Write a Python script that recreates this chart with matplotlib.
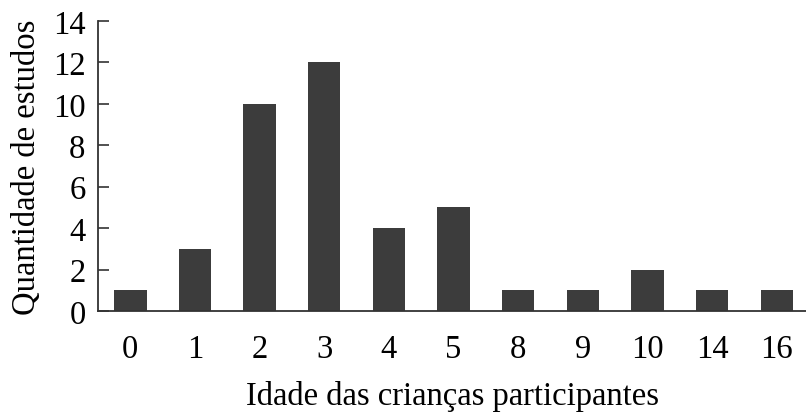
import matplotlib.pyplot as plt

plt.rcParams['font.family'] = ['Liberation Serif', 'DejaVu Serif']

idades = ['0', '1', '2', '3', '4', '5', '8', '9', '10', '14', '16']
estudos = [1, 3, 10, 12, 4, 5, 1, 1, 2, 1, 1]

fig = plt.figure(figsize=(8.06, 4.14), dpi=100)
ax = fig.add_axes([0.1216, 0.2464, 0.8784, 0.7005])

ax.bar(range(len(idades)), estudos, width=0.5, color='#3c3c3c')

ax.set_xlim(-0.5, 10.45)
ax.set_ylim(0, 14)
ax.set_yticks(range(0, 15, 2))
ax.set_xticks(range(len(idades)))
ax.set_xticklabels(idades)

ax.spines['top'].set_visible(False)
ax.spines['right'].set_visible(False)
for s in ['left', 'bottom']:
    ax.spines[s].set_color('#333333')
    ax.spines[s].set_linewidth(1.3)

ax.tick_params(axis='y', direction='in', length=8, width=1.2, color='#333333',
               labelsize=23.5, pad=9)
ax.tick_params(axis='x', length=0, labelsize=23.5, pad=16)

ax.set_ylabel('Quantidade de estudos', fontsize=23.5, labelpad=8)
ax.set_xlabel('Idade das crianças participantes', fontsize=23.5, labelpad=12)

fig.savefig('out.png', dpi=100)
